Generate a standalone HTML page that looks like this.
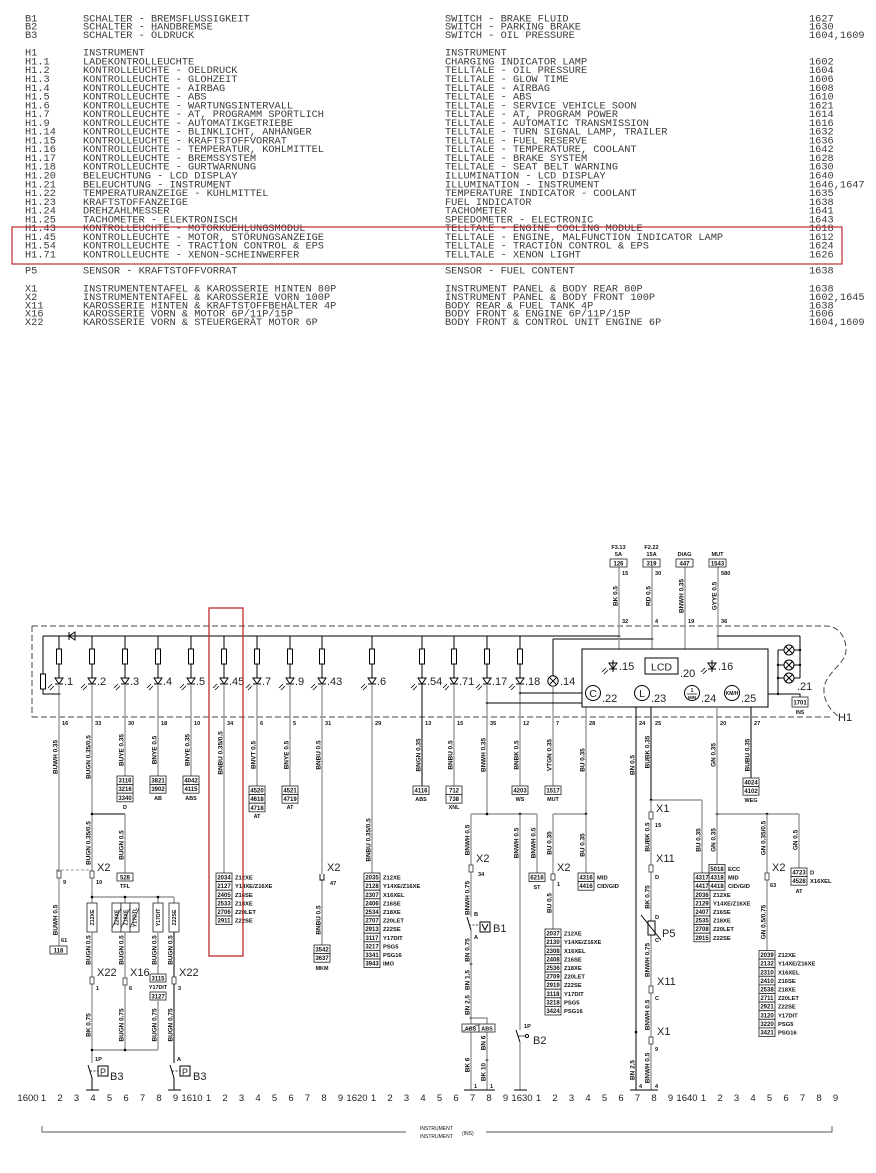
<!DOCTYPE html>
<html><head><meta charset="utf-8">
<style>
html,body{margin:0;padding:0;background:#fff;}
svg{display:block}
.m{font-family:"Liberation Mono",monospace;font-size:10.3px;fill:#3a3a3a;white-space:pre}
.r{font-family:"Liberation Sans",sans-serif;font-size:6.4px;font-weight:bold;text-anchor:middle;fill:#111}
.n{font-family:"Liberation Sans",sans-serif;font-size:5.6px;font-weight:bold;fill:#111}
.bt{font-family:"Liberation Sans",sans-serif;font-size:6px;font-weight:bold;text-anchor:middle;fill:#111}
.bl{font-family:"Liberation Sans",sans-serif;font-size:5.8px;font-weight:bold;fill:#111}
.lb{font-family:"Liberation Sans",sans-serif;font-size:11px;fill:#222}
.sc{font-family:"Liberation Sans",sans-serif;font-size:9.5px;text-anchor:middle;fill:#222}
.g{stroke:#999;stroke-width:1.4;fill:none}
.k{stroke:#000;stroke-width:1;fill:none}
.bx{fill:#fff;stroke:#222;stroke-width:0.8}
</style></head>
<body>
<svg width="876" height="1173" viewBox="0 0 876 1173" xmlns="http://www.w3.org/2000/svg">
<rect width="876" height="1173" fill="#fff"/>
<defs>
<g id="rl" stroke="#000" stroke-width="1" fill="none">
<line x1="0" y1="636" x2="0" y2="649"/>
<rect x="-2.5" y="649" width="5" height="15" fill="#fff"/>
<line x1="0" y1="664" x2="0" y2="678"/>
<path d="M-4 678H4L0 684Z M-4 684H4"/>
<path d="M-11 688L-7 684M-9 690L-5 686" stroke-width="0.8"/>
</g>
</defs>

<!-- ===== TOP LEGEND ===== -->
<g class="m">
<text x="25" y="21.3">B1</text><text x="83" y="21.3">SCHALTER - BREMSFLUSSIGKEIT</text><text x="445" y="21.3">SWITCH - BRAKE FLUID</text><text x="809" y="21.3">1627</text>
<text x="25" y="29.7">B2</text><text x="83" y="29.7">SCHALTER - HANDBREMSE</text><text x="445" y="29.7">SWITCH - PARKING BRAKE</text><text x="809" y="29.7">1630</text>
<text x="25" y="38.1">B3</text><text x="83" y="38.1">SCHALTER - ÖLDRUCK</text><text x="445" y="38.1">SWITCH - OIL PRESSURE</text><text x="809" y="38.1">1604,1609</text>

<text x="25" y="55.7">H1</text><text x="83" y="55.7">INSTRUMENT</text><text x="445" y="55.7">INSTRUMENT</text>
<text x="25" y="64.5">H1.1</text><text x="83" y="64.5">LADEKONTROLLEUCHTE</text><text x="445" y="64.5">CHARGING INDICATOR LAMP</text><text x="809" y="64.5">1602</text>
<text x="25" y="73.2">H1.2</text><text x="83" y="73.2">KONTROLLEUCHTE - OELDRUCK</text><text x="445" y="73.2">TELLTALE - OIL PRESSURE</text><text x="809" y="73.2">1604</text>
<text x="25" y="82">H1.3</text><text x="83" y="82">KONTROLLEUCHTE - GLOHZEIT</text><text x="445" y="82">TELLTALE - GLOW TIME</text><text x="809" y="82">1606</text>
<text x="25" y="90.8">H1.4</text><text x="83" y="90.8">KONTROLLEUCHTE - AIRBAG</text><text x="445" y="90.8">TELLTALE - AIRBAG</text><text x="809" y="90.8">1608</text>
<text x="25" y="99.6">H1.5</text><text x="83" y="99.6">KONTROLLEUCHTE - ABS</text><text x="445" y="99.6">TELLTALE - ABS</text><text x="809" y="99.6">1610</text>
<text x="25" y="108.3">H1.6</text><text x="83" y="108.3">KONTROLLEUCHTE - WARTUNGSINTERVALL</text><text x="445" y="108.3">TELLTALE - SERVICE VEHICLE SOON</text><text x="809" y="108.3">1621</text>
<text x="25" y="117.1">H1.7</text><text x="83" y="117.1">KONTROLLEUCHTE - AT, PROGRAMM SPORTLICH</text><text x="445" y="117.1">TELLTALE - AT, PROGRAM POWER</text><text x="809" y="117.1">1614</text>
<text x="25" y="125.9">H1.9</text><text x="83" y="125.9">KONTROLLEUCHTE - AUTOMATIKGETRIEBE</text><text x="445" y="125.9">TELLTALE - AUTOMATIC TRANSMISSION</text><text x="809" y="125.9">1616</text>
<text x="25" y="134.6">H1.14</text><text x="83" y="134.6">KONTROLLEUCHTE - BLINKLICHT, ANHÄNGER</text><text x="445" y="134.6">TELLTALE - TURN SIGNAL LAMP, TRAILER</text><text x="809" y="134.6">1632</text>
<text x="25" y="143.4">H1.15</text><text x="83" y="143.4">KONTROLLEUCHTE - KRAFTSTOFFVORRAT</text><text x="445" y="143.4">TELLTALE - FUEL RESERVE</text><text x="809" y="143.4">1636</text>
<text x="25" y="152.2">H1.16</text><text x="83" y="152.2">KONTROLLEUCHTE - TEMPERATUR, KOHLMITTEL</text><text x="445" y="152.2">TELLTALE - TEMPERATURE, COOLANT</text><text x="809" y="152.2">1642</text>
<text x="25" y="160.9">H1.17</text><text x="83" y="160.9">KONTROLLEUCHTE - BREMSSYSTEM</text><text x="445" y="160.9">TELLTALE - BRAKE SYSTEM</text><text x="809" y="160.9">1628</text>
<text x="25" y="169.7">H1.18</text><text x="83" y="169.7">KONTROLLEUCHTE - GURTWARNUNG</text><text x="445" y="169.7">TELLTALE - SEAT BELT WARNING</text><text x="809" y="169.7">1630</text>
<text x="25" y="178.5">H1.20</text><text x="83" y="178.5">BELEUCHTUNG - LCD DISPLAY</text><text x="445" y="178.5">ILLUMINATION - LCD DISPLAY</text><text x="809" y="178.5">1640</text>
<text x="25" y="187.3">H1.21</text><text x="83" y="187.3">BELEUCHTUNG - INSTRUMENT</text><text x="445" y="187.3">ILLUMINATION - INSTRUMENT</text><text x="809" y="187.3">1646,1647</text>
<text x="25" y="196">H1.22</text><text x="83" y="196">TEMPERATURANZEIGE - KÜHLMITTEL</text><text x="445" y="196">TEMPERATURE INDICATOR - COOLANT</text><text x="809" y="196">1635</text>
<text x="25" y="204.8">H1.23</text><text x="83" y="204.8">KRAFTSTOFFANZEIGE</text><text x="445" y="204.8">FUEL INDICATOR</text><text x="809" y="204.8">1638</text>
<text x="25" y="213.6">H1.24</text><text x="83" y="213.6">DREHZAHLMESSER</text><text x="445" y="213.6">TACHOMETER</text><text x="809" y="213.6">1641</text>
<text x="25" y="222.3">H1.25</text><text x="83" y="222.3">TACHOMETER - ELEKTRONISCH</text><text x="445" y="222.3">SPEEDOMETER - ELECTRONIC</text><text x="809" y="222.3">1643</text>
<text x="25" y="231.1">H1.43</text><text x="83" y="231.1">KONTROLLEUCHTE - MOTORKUEHLUNGSMODUL</text><text x="445" y="231.1">TELLTALE - ENGINE COOLING MODULE</text><text x="809" y="231.1">1618</text>
<text x="25" y="239.9">H1.45</text><text x="83" y="239.9">KONTROLLEUCHTE - MOTOR, STÖRUNGSANZEIGE</text><text x="445" y="239.9">TELLTALE - ENGINE, MALFUNCTION INDICATOR LAMP</text><text x="809" y="239.9">1612</text>
<text x="25" y="248.6">H1.54</text><text x="83" y="248.6">KONTROLLEUCHTE - TRACTION CONTROL &amp; EPS</text><text x="445" y="248.6">TELLTALE - TRACTION CONTROL &amp; EPS</text><text x="809" y="248.6">1624</text>
<text x="25" y="257.4">H1.71</text><text x="83" y="257.4">KONTROLLEUCHTE - XENON-SCHEINWERFER</text><text x="445" y="257.4">TELLTALE - XENON LIGHT</text><text x="809" y="257.4">1626</text>

<text x="25" y="273.5">P5</text><text x="83" y="273.5">SENSOR - KRAFTSTOFFVORRAT</text><text x="445" y="273.5">SENSOR - FUEL CONTENT</text><text x="809" y="273.5">1638</text>

<text x="25" y="291.5">X1</text><text x="83" y="291.5">INSTRUMENTENTAFEL &amp; KAROSSERIE HINTEN 80P</text><text x="445" y="291.5">INSTRUMENT PANEL &amp; BODY REAR 80P</text><text x="809" y="291.5">1638</text>
<text x="25" y="299.9">X2</text><text x="83" y="299.9">INSTRUMENTENTAFEL &amp; KAROSSERIE VORN 100P</text><text x="445" y="299.9">INSTRUMENT PANEL &amp; BODY FRONT 100P</text><text x="809" y="299.9">1602,1645</text>
<text x="25" y="308.3">X11</text><text x="83" y="308.3">KAROSSERIE HINTEN &amp; KRAFTSTOFFBEHÄLTER 4P</text><text x="445" y="308.3">BODY REAR &amp; FUEL TANK 4P</text><text x="809" y="308.3">1638</text>
<text x="25" y="316.7">X16</text><text x="83" y="316.7">KAROSSERIE VORN &amp; MOTOR  6P/11P/15P</text><text x="445" y="316.7">BODY FRONT &amp; ENGINE 6P/11P/15P</text><text x="809" y="316.7">1606</text>
<text x="25" y="325.1">X22</text><text x="83" y="325.1">KAROSSERIE VORN &amp; STEUERGERÄT MOTOR 6P</text><text x="445" y="325.1">BODY FRONT &amp; CONTROL UNIT ENGINE 6P</text><text x="809" y="325.1">1604,1609</text>
</g>
<rect x="12" y="227" width="830" height="37" fill="none" stroke="#c0282d" stroke-width="1.2"/>

<!-- ===== H1 DASHED BOX ===== -->
<g stroke="#444" stroke-width="1" fill="none" stroke-dasharray="6,3">
<path d="M32 626V717"/>
<path d="M32 626H826C838 626 846 636 846 650C846 664 826 672 824 688C823 700 830 710 838 716"/>
<path d="M32 717H832"/>
</g>
<text x="838" y="721" class="lb">H1</text>

<!-- bus -->
<path class="k" d="M43 636H619 M553 639H652 M718 636H800"/>
<path d="M69 632V640 M75 632V640L69 636Z" stroke="#000" stroke-width="1" fill="none"/>
<path class="k" d="M43 636V694H59"/>
<rect x="40.5" y="674" width="5" height="15" fill="#fff" stroke="#000"/>
<circle cx="59" cy="694" r="1.3"/>

<use href="#rl" x="59"/><use href="#rl" x="92"/><use href="#rl" x="125"/><use href="#rl" x="158"/>
<use href="#rl" x="191"/><use href="#rl" x="224"/><use href="#rl" x="257"/><use href="#rl" x="290"/>
<use href="#rl" x="322"/><use href="#rl" x="372"/><use href="#rl" x="422"/><use href="#rl" x="454"/>
<use href="#rl" x="487"/><use href="#rl" x="520"/>
<g class="lb">
<text x="64" y="685">.1</text><text x="97" y="685">.2</text><text x="130" y="685">.3</text><text x="163" y="685">.4</text>
<text x="196" y="685">.5</text><text x="229" y="685">.45</text><text x="262" y="685">.7</text><text x="295" y="685">.9</text>
<text x="327" y="685">.43</text><text x="377" y="685">.6</text><text x="427" y="685">.54</text><text x="459" y="685">.71</text>
<text x="492" y="685">.17</text><text x="525" y="685">.18</text><text x="560" y="685">.14</text>
</g>
<path class="k" d="M553 639V676"/>
<circle cx="553" cy="681" r="5.2" fill="#fff" stroke="#000"/>
<path class="k" d="M549.3 677.3L556.7 684.7M556.7 677.3L549.3 684.7"/>
<circle cx="619" cy="636" r="1.3"/><circle cx="652" cy="639" r="1.3"/><circle cx="718" cy="636" r="1.3"/>
<circle cx="520" cy="693" r="1.3"/><circle cx="487" cy="703" r="1.3"/>

<path class="g" d="M59 684V871 M59 878V946 M92 684V871 M125 684V776 M158 684V776 M191 684V776 M224 684V873 M257 684V786 M290 684V786 M322 684V874 M322 880V945 M372 684V873 M454 684V786 M487 684V814 M520 684V786 M553 686V786 M586 707V814"/>
<path class="k" d="M422 684V786"/>
<path class="k" d="M520 693H582 M487 703H582"/>

<path class="g" d="M619 567V649 M652 567V649 M685 567V649 M718 567V649"/>
<g>
<rect x="610" y="559" width="17" height="8" class="bx"/><text x="618.5" y="565.3" class="bt">126</text>
<rect x="643" y="559" width="17" height="8" class="bx"/><text x="651.5" y="565.3" class="bt">319</text>
<rect x="676" y="559" width="17" height="8" class="bx"/><text x="684.5" y="565.3" class="bt">447</text>
<rect x="709" y="559" width="17" height="8" class="bx"/><text x="717.5" y="565.3" class="bt">1543</text>
</g>
<g class="r" style="font-size:5.6px">
<text x="618.5" y="549">F3.13</text><text x="618.5" y="556">5A</text>
<text x="651.5" y="549">F2.22</text><text x="651.5" y="556">15A</text>
<text x="684.5" y="556">DIAG</text><text x="717.5" y="556">MUT</text>
</g>
<g class="n">
<text x="622" y="575">15</text><text x="655" y="575">30</text><text x="721" y="575">580</text>
<text x="622" y="623">32</text><text x="655" y="623">4</text><text x="688" y="623">19</text><text x="721" y="623">36</text>
</g>

<rect x="582" y="649" width="186" height="58" fill="#fff" stroke="#000" stroke-width="1"/>
<g stroke="#000" stroke-width="1" fill="none">
<path d="M609 663H617L613 669Z M609 669H617 M613 660V672"/>
<path d="M708 663H716L712 669Z M708 669H716 M712 660V672"/>
<path d="M602 672L606 668M604 674L608 670M701 672L705 668M703 674L707 670" stroke-width="0.8"/>
<rect x="645" y="658" width="33" height="16"/>
<circle cx="593" cy="693" r="7.5"/><circle cx="642" cy="693" r="7.5"/>
<circle cx="692" cy="693" r="7.5"/><circle cx="732" cy="693" r="7.5"/>
<path d="M687 694H697" stroke-width="0.7"/>
</g>
<g class="lb">
<text x="619" y="670">.15</text><text x="718" y="670">.16</text><text x="680" y="677">.20</text>
<text x="602" y="702">.22</text><text x="651" y="702">.23</text><text x="701" y="702">.24</text><text x="741" y="702">.25</text>
<text x="661.5" y="670.5" text-anchor="middle" font-size="10.5">LCD</text>
<text x="593" y="697" text-anchor="middle" font-size="10.5">C</text>
<text x="642" y="697" text-anchor="middle" font-size="10.5">L</text>
</g>
<text x="692" y="692" class="bt" style="font-size:5px">1</text>
<text x="692" y="699" class="bt" style="font-size:4.5px">MIN</text>
<text x="732" y="695" class="bt" style="font-size:5px">KM/H</text>

<path class="k" d="M778 650V694 M800 636V678 M778 650H800 M778 665H800 M778 678H800 M768 694H800V697"/>
<g fill="#fff" stroke="#000">
<circle cx="789" cy="650" r="5"/><circle cx="789" cy="665" r="5"/><circle cx="789" cy="678" r="5"/>
</g>
<path class="k" d="M785.5 646.5L792.5 653.5M792.5 646.5L785.5 653.5 M785.5 661.5L792.5 668.5M792.5 661.5L785.5 668.5 M785.5 674.5L792.5 681.5M792.5 674.5L785.5 681.5"/>
<g fill="#000"><circle cx="778" cy="665" r="1.2"/><circle cx="778" cy="678" r="1.2"/><circle cx="778" cy="694" r="1.2"/><circle cx="800" cy="650" r="1.2"/><circle cx="800" cy="665" r="1.2"/></g>
<text x="797" y="690" class="lb">.21</text>
<rect x="792" y="697" width="16" height="10" class="bx"/><text x="800" y="704.3" class="bt">1701</text>
<text x="800" y="714" class="bt" style="font-size:5px">INS</text>

<g class="n">
<text x="62" y="725">16</text><text x="95" y="725">33</text><text x="128" y="725">30</text><text x="161" y="725">18</text>
<text x="194" y="725">10</text><text x="227" y="725">34</text><text x="260" y="725">6</text><text x="293" y="725">5</text>
<text x="325" y="725">31</text><text x="375" y="725">29</text><text x="425" y="725">13</text><text x="457" y="725">15</text>
<text x="490" y="725">35</text><text x="523" y="725">12</text><text x="556" y="725">7</text><text x="589" y="725">28</text>
<text x="639" y="725">24</text><text x="655" y="725">25</text><text x="720" y="725">20</text><text x="754" y="725">27</text>
</g>

<g class="r">
<text transform="translate(57.5,757) rotate(-90)">BUWH 0.35</text>
<text transform="translate(90.5,757) rotate(-90)">BUGN 0.35/0.5</text>
<text transform="translate(123.5,750) rotate(-90)">BUYE 0.35</text>
<text transform="translate(156.5,750) rotate(-90)">BNYE 0.5</text>
<text transform="translate(189.5,750) rotate(-90)">BNYE 0.35</text>
<text transform="translate(222.5,753) rotate(-90)">BNBU 0.35/0.5</text>
<text transform="translate(255.5,755) rotate(-90)">BNVT 0.5</text>
<text transform="translate(288.5,755) rotate(-90)">BNYE 0.5</text>
<text transform="translate(320.5,755) rotate(-90)">BNBU 0.5</text>
<text transform="translate(420.5,755) rotate(-90)">BNGN 0.35</text>
<text transform="translate(452.5,755) rotate(-90)">BNBU 0.5</text>
<text transform="translate(485.5,755) rotate(-90)">BNWH 0.35</text>
<text transform="translate(518.5,755) rotate(-90)">BNBK 0.5</text>
<text transform="translate(551.5,755) rotate(-90)">VTGN 0.35</text>
<text transform="translate(584.5,760) rotate(-90)">BU 0.35</text>
<text transform="translate(634.5,765) rotate(-90)">BN 0.5</text>
<text transform="translate(649.5,752) rotate(-90)">BUBK 0.35</text>
<text transform="translate(715.5,755) rotate(-90)">GN 0.35</text>
<text transform="translate(749.5,755) rotate(-90)">BUBU 0.35</text>
<text transform="translate(617.5,596) rotate(-90)">BK 0.5</text>
<text transform="translate(650.5,596) rotate(-90)">RD 0.5</text>
<text transform="translate(683.5,596) rotate(-90)">BNWH 0.35</text>
<text transform="translate(716.5,596) rotate(-90)">GYYE 0.5</text>
<text transform="translate(90.5,843) rotate(-90)">BUGN 0.35/0.5</text>
<text transform="translate(123.5,845) rotate(-90)">BUGN 0.5</text>
<text transform="translate(57.5,920) rotate(-90)">BUWH 0.5</text>
<text transform="translate(320.5,920) rotate(-90)">BNBU 0.5</text>
<text transform="translate(370.5,840) rotate(-90)">BNBU 0.35/0.5</text>
<text transform="translate(90.5,950) rotate(-90)">BUGN 0.5</text>
<text transform="translate(123.5,950) rotate(-90)">BUGN 0.5</text>
<text transform="translate(156.5,950) rotate(-90)">BUGN 0.5</text>
<text transform="translate(172.5,950) rotate(-90)">BUGN 0.5</text>
<text transform="translate(90.5,1025) rotate(-90)">BK 0.75</text>
<text transform="translate(123.5,1025) rotate(-90)">BUGN 0.75</text>
<text transform="translate(156.5,1025) rotate(-90)">BUGN 0.75</text>
<text transform="translate(172.5,1025) rotate(-90)">BUGN 0.75</text>
<text transform="translate(469.5,840) rotate(-90)">BNWH 0.5</text>
<text transform="translate(469.5,898) rotate(-90)">BNWH 0.75</text>
<text transform="translate(469.5,950) rotate(-90)">BN 0.75</text>
<text transform="translate(469.5,980) rotate(-90)">BN 1.5</text>
<text transform="translate(469.5,1005) rotate(-90)">BN 2.5</text>
<text transform="translate(469.5,1065) rotate(-90)">BK 6</text>
<text transform="translate(485.5,1043) rotate(-90)">BN 6</text>
<text transform="translate(485.5,1072) rotate(-90)">BK 10</text>
<text transform="translate(518.5,843) rotate(-90)">BNWH 0.5</text>
<text transform="translate(535.5,843) rotate(-90)">BNWH 0.5</text>
<text transform="translate(551.5,843) rotate(-90)">BU 0.35</text>
<text transform="translate(551.5,903) rotate(-90)">BU 0.5</text>
<text transform="translate(584.5,845) rotate(-90)">BU 0.35</text>
<text transform="translate(649.5,837) rotate(-90)">BUBK 0.5</text>
<text transform="translate(649.5,897) rotate(-90)">BK 0.75</text>
<text transform="translate(649.5,960) rotate(-90)">BNWH 0.75</text>
<text transform="translate(649.5,1015) rotate(-90)">BNWH 0.5</text>
<text transform="translate(649.5,1068) rotate(-90)">BNWH 0.5</text>
<text transform="translate(634.5,1070) rotate(-90)">BN 2.5</text>
<text transform="translate(700.5,840) rotate(-90)">BU 0.35</text>
<text transform="translate(715.5,840) rotate(-90)">GN 0.35</text>
<text transform="translate(765.5,838) rotate(-90)">GN 0.35/0.5</text>
<text transform="translate(765.5,922) rotate(-90)">GN 0.5/0.75</text>
<text transform="translate(797.5,840) rotate(-90)">GN 0.5</text>
</g>

<g>
<rect x="117" y="776" width="16" height="8.6" class="bx"/><text x="125" y="782.6" class="bt">3116</text>
<rect x="117" y="784.6" width="16" height="8.6" class="bx"/><text x="125" y="791.2" class="bt">3216</text>
<rect x="117" y="793.2" width="16" height="8.6" class="bx"/><text x="125" y="799.8" class="bt">3340</text>
<rect x="150" y="776" width="16" height="8.6" class="bx"/><text x="158" y="782.6" class="bt">3821</text>
<rect x="150" y="784.6" width="16" height="8.6" class="bx"/><text x="158" y="791.2" class="bt">3902</text>
<rect x="183" y="776" width="16" height="8.6" class="bx"/><text x="191" y="782.6" class="bt">4042</text>
<rect x="183" y="784.6" width="16" height="8.6" class="bx"/><text x="191" y="791.2" class="bt">4115</text>
<rect x="249" y="786" width="16" height="8.6" class="bx"/><text x="257" y="792.6" class="bt">4520</text>
<rect x="249" y="794.6" width="16" height="8.6" class="bx"/><text x="257" y="801.2" class="bt">4618</text>
<rect x="249" y="803.2" width="16" height="8.6" class="bx"/><text x="257" y="809.8" class="bt">4718</text>
<rect x="282" y="786" width="16" height="8.6" class="bx"/><text x="290" y="792.6" class="bt">4521</text>
<rect x="282" y="794.6" width="16" height="8.6" class="bx"/><text x="290" y="801.2" class="bt">4719</text>
<rect x="413" y="786" width="16" height="8.6" class="bx"/><text x="421" y="792.6" class="bt">4116</text>
<rect x="446" y="786" width="16" height="8.6" class="bx"/><text x="454" y="792.6" class="bt">712</text>
<rect x="446" y="794.6" width="16" height="8.6" class="bx"/><text x="454" y="801.2" class="bt">738</text>
<rect x="512" y="786" width="16" height="8.6" class="bx"/><text x="520" y="792.6" class="bt">4203</text>
<rect x="545" y="786" width="16" height="8.6" class="bx"/><text x="553" y="792.6" class="bt">1517</text>
<rect x="743" y="778" width="16" height="8.6" class="bx"/><text x="751" y="784.6" class="bt">4024</text>
<rect x="743" y="786.6" width="16" height="8.6" class="bx"/><text x="751" y="793.2" class="bt">4102</text>
</g>
<g class="bt" style="font-size:5.4px">
<text x="125" y="809">D</text><text x="158" y="800">AB</text><text x="191" y="800">ABS</text>
<text x="257" y="818">AT</text><text x="290" y="809">AT</text><text x="421" y="801">ABS</text>
<text x="454" y="809">XNL</text><text x="520" y="801">WS</text><text x="553" y="801">MUT</text><text x="751" y="802">WEG</text>
</g>

<path class="k" d="M92 814H125"/>
<circle cx="92" cy="814" r="1.3"/>
<path class="g" d="M125 814V873 M92 878V897H174 M92 897V903 M125 897V903 M158 897V903 M174 897V903"/>
<g fill="#000"><circle cx="92" cy="897" r="1.3"/><circle cx="125" cy="897" r="1.3"/><circle cx="158" cy="897" r="1.3"/></g>
<path d="M56 870H92" stroke="#777" stroke-width="0.8" stroke-dasharray="3,2" fill="none"/>
<rect x="57" y="871" width="4" height="7" fill="#fff" stroke="#333" stroke-width="0.8"/>
<rect x="90" y="871" width="4" height="7" fill="#fff" stroke="#333" stroke-width="0.8"/>
<text x="97" y="871" class="lb">X2</text>
<g class="n"><text x="63" y="884">9</text><text x="96" y="884">10</text><text x="61" y="942">61</text></g>
<rect x="117" y="873" width="16" height="8" class="bx"/><text x="125" y="879.3" class="bt">528</text>
<text x="125" y="888" class="bt" style="font-size:5.4px">TFL</text>
<rect x="50" y="946" width="17" height="8" class="bx"/><text x="58.5" y="952.3" class="bt">118</text>

<g fill="#fff" stroke="#222" stroke-width="0.8">
<rect x="87" y="903" width="10" height="29"/>
<rect x="112" y="903" width="9" height="29"/><rect x="121" y="903" width="9" height="29"/><rect x="130" y="903" width="9" height="29"/>
<rect x="153" y="903" width="10" height="29"/><rect x="169" y="903" width="10" height="29"/>
</g>
<path d="M112 928L121 908M121 928L130 908M130 928L139 908" stroke="#222" stroke-width="0.7"/>
<g class="r" style="font-size:5.2px">
<text transform="translate(94,917.5) rotate(-90)">Z12XE</text>
<text transform="translate(118.5,917.5) rotate(-90)">Z20XE</text>
<text transform="translate(127.5,917.5) rotate(-90)">Z18XE</text>
<text transform="translate(136.5,917.5) rotate(-90)">Y17DTL</text>
<text transform="translate(160,917.5) rotate(-90)">Y17DIT</text>
<text transform="translate(176,917.5) rotate(-90)">Z22SE</text>
</g>
<path class="g" d="M92 932V977 M92 984V1063 M125 932V978 M125 985V1050 M158 932V974 M158 1001V1050 M92 1050H158"/>
<path class="k" d="M174 932V977 M174 984V1063"/>
<g fill="#000"><circle cx="92" cy="1050" r="1.3"/><circle cx="125" cy="1050" r="1.3"/></g>
<g fill="#fff" stroke="#333" stroke-width="0.8">
<rect x="90" y="977" width="4" height="7"/><rect x="123" y="978" width="4" height="7"/><rect x="172" y="977" width="4" height="7"/>
</g>
<g class="lb"><text x="97" y="976">X22</text><text x="130" y="976">X16</text><text x="179" y="976">X22</text></g>
<g class="n"><text x="96" y="990">1</text><text x="129" y="990">6</text><text x="178" y="990">3</text></g>
<rect x="150" y="974" width="16" height="8" class="bx"/><text x="158" y="980.3" class="bt">3115</text>
<text x="158" y="989" class="bt" style="font-size:5.4px">Y17DIT</text>
<rect x="150" y="992" width="16" height="8" class="bx"/><text x="158" y="998.3" class="bt">3127</text>

<g stroke="#000" stroke-width="1" fill="none">
<path d="M92 1078L88 1065 M92 1078V1090 M86 1090H99"/>
<path d="M90 1071H98" stroke-dasharray="2,1.5" stroke-width="0.7"/>
<rect x="98" y="1066" width="10" height="10"/>
<path d="M174 1078L170 1065 M174 1078V1090 M168 1090H181"/>
<path d="M172 1071H180" stroke-dasharray="2,1.5" stroke-width="0.7"/>
<rect x="180" y="1066" width="10" height="10"/>
</g>
<g class="lb"><text x="100" y="1075" font-size="9">P</text><text x="110" y="1080">B3</text>
<text x="182" y="1075" font-size="9">P</text><text x="193" y="1080">B3</text></g>
<g class="n"><text x="95" y="1061">1P</text><text x="177" y="1061">A</text></g>

<g>
<rect x="216" y="873" width="16" height="8.6" class="bx"/><text x="224" y="879.6" class="bt">2034</text>
<rect x="216" y="881.6" width="16" height="8.6" class="bx"/><text x="224" y="888.2" class="bt">2127</text>
<rect x="216" y="890.2" width="16" height="8.6" class="bx"/><text x="224" y="896.8" class="bt">2405</text>
<rect x="216" y="898.8" width="16" height="8.6" class="bx"/><text x="224" y="905.4" class="bt">2533</text>
<rect x="216" y="907.4" width="16" height="8.6" class="bx"/><text x="224" y="914" class="bt">2706</text>
<rect x="216" y="916" width="16" height="8.6" class="bx"/><text x="224" y="922.6" class="bt">2911</text>
</g>
<g class="bl">
<text x="235" y="879.6">Z12XE</text><text x="235" y="888.2">Y14XE/Z16XE</text><text x="235" y="896.8">Z16SE</text>
<text x="235" y="905.4">Z18XE</text><text x="235" y="914">Z20LET</text><text x="235" y="922.6">Z22SE</text>
</g>
<rect x="209" y="608" width="34" height="348" fill="none" stroke="#c0282d" stroke-width="1.3"/>

<path d="M320 874V880H324V874" fill="none" stroke="#000" stroke-width="0.9"/>
<text x="327" y="871" class="lb">X2</text>
<text x="330" y="885" class="n">47</text>
<rect x="314" y="945" width="16" height="8.6" class="bx"/><text x="322" y="951.6" class="bt">3542</text>
<rect x="314" y="953.6" width="16" height="8.6" class="bx"/><text x="322" y="960.2" class="bt">3637</text>
<text x="322" y="970" class="bt" style="font-size:5.4px">MKM</text>

<g>
<rect x="364" y="873" width="16" height="8.6" class="bx"/><text x="372" y="879.6" class="bt">2035</text>
<rect x="364" y="881.6" width="16" height="8.6" class="bx"/><text x="372" y="888.2" class="bt">2128</text>
<rect x="364" y="890.2" width="16" height="8.6" class="bx"/><text x="372" y="896.8" class="bt">2307</text>
<rect x="364" y="898.8" width="16" height="8.6" class="bx"/><text x="372" y="905.4" class="bt">2406</text>
<rect x="364" y="907.4" width="16" height="8.6" class="bx"/><text x="372" y="914" class="bt">2534</text>
<rect x="364" y="916" width="16" height="8.6" class="bx"/><text x="372" y="922.6" class="bt">2707</text>
<rect x="364" y="924.6" width="16" height="8.6" class="bx"/><text x="372" y="931.2" class="bt">2913</text>
<rect x="364" y="933.2" width="16" height="8.6" class="bx"/><text x="372" y="939.8" class="bt">3117</text>
<rect x="364" y="941.8" width="16" height="8.6" class="bx"/><text x="372" y="948.4" class="bt">3217</text>
<rect x="364" y="950.4" width="16" height="8.6" class="bx"/><text x="372" y="957" class="bt">3341</text>
<rect x="364" y="959" width="16" height="8.6" class="bx"/><text x="372" y="965.6" class="bt">3943</text>
</g>
<g class="bl">
<text x="383" y="879.6">Z12XE</text><text x="383" y="888.2">Y14XE/Z16XE</text><text x="383" y="896.8">X16XEL</text>
<text x="383" y="905.4">Z16SE</text><text x="383" y="914">Z18XE</text><text x="383" y="922.6">Z20LET</text>
<text x="383" y="931.2">Z22SE</text><text x="383" y="939.8">Y17DIT</text><text x="383" y="948.4">PSG5</text>
<text x="383" y="957">PSG16</text><text x="383" y="965.6">IMO</text>
</g>

<path class="g" d="M471 814H537 M553 814H586 M717 814H799 M651 800H702"/>
<g fill="#000">
<circle cx="487" cy="814" r="1.3"/><circle cx="520" cy="814" r="1.3"/><circle cx="586" cy="814" r="1.3"/>
<circle cx="651" cy="800" r="1.3"/><circle cx="717" cy="814" r="1.3"/><circle cx="767" cy="814" r="1.3"/>
<circle cx="471" cy="964" r="1.3"/><circle cx="471" cy="1018" r="1.3"/><circle cx="487" cy="1060" r="1.3"/>
<circle cx="636" cy="1032" r="1.3"/>
</g>
<path class="g" d="M471 814V865 M471 872V917 M471 930V1024 M471 1018H487V1024 M471 1032V1090 M487 1032V1090 M520 814V1030 M520 1042V1090 M537 814V873 M553 814V874 M553 880V929 M586 814V873 M651 800V812 M651 819V865 M651 872V921 M651 935V986 M651 993V1037 M651 1044V1090 M702 800V873 M717 707V864 M767 814V873 M767 880V950 M799 814V868"/>
<path class="k" d="M636 707V1090 M651 707V800 M751 707V778"/>

<g fill="#fff" stroke="#333" stroke-width="0.8">
<rect x="469" y="865" width="4" height="7"/><rect x="551" y="874" width="4" height="6"/>
<rect x="649" y="812" width="4" height="7"/><rect x="649" y="865" width="4" height="7"/>
<rect x="649" y="986" width="4" height="7"/><rect x="649" y="1037" width="4" height="7"/>
<rect x="765" y="873" width="4" height="7"/>
</g>
<g class="lb">
<text x="476" y="862">X2</text><text x="557" y="871">X2</text><text x="772" y="871">X2</text>
<text x="656" y="812">X1</text><text x="656" y="862">X11</text><text x="657" y="985">X11</text><text x="657" y="1035">X1</text>
<text x="662" y="937">P5</text><text x="493" y="932">B1</text><text x="533" y="1044">B2</text>
</g>
<g class="n">
<text x="478" y="876">34</text><text x="557" y="886">1</text><text x="770" y="887">63</text>
<text x="655" y="827">15</text><text x="655" y="879">D</text><text x="655" y="919">D</text><text x="655" y="942">C</text>
<text x="655" y="1000">C</text><text x="655" y="1051">9</text>
<text x="474" y="916">B</text><text x="474" y="939">A</text><text x="524" y="1028">1P</text>
<text x="474" y="1088">1</text><text x="490" y="1088">1</text><text x="639" y="1088">4</text><text x="655" y="1088">4</text>
</g>
<rect x="648" y="921" width="7" height="14" fill="#fff" stroke="#000"/>
<path class="k" d="M641 915L661 940"/>
<g stroke="#000" stroke-width="1" fill="none">
<path d="M471 930L467 917"/>
<path d="M469 925H480" stroke-dasharray="2,1.5" stroke-width="0.7"/>
<rect x="480" y="922" width="10" height="10"/>
<path d="M482 924L485 930L488 924"/>
<path d="M520 1042L516 1030"/>
<path d="M518 1036H525" stroke-width="0.7"/>
<circle cx="527" cy="1036" r="1.6"/>
<path d="M464 1090H495 M514 1090H527 M630 1090H658"/>
</g>
<rect x="462" y="1024" width="17" height="8" class="bx"/><rect x="479" y="1024" width="16" height="8" class="bx"/>
<text x="470.5" y="1030.3" class="bt" style="font-size:5.4px">ABS</text><text x="487" y="1030.3" class="bt" style="font-size:5.4px">ABS</text>
<path d="M463 1031L478 1025" stroke="#222" stroke-width="0.6"/>

<rect x="529" y="873" width="16" height="8.6" class="bx"/><text x="537" y="879.6" class="bt">6216</text>
<text x="537" y="889" class="bt" style="font-size:5.4px">ST</text>
<rect x="578" y="873" width="16" height="8.6" class="bx"/><text x="586" y="879.6" class="bt">4316</text>
<rect x="578" y="881.6" width="16" height="8.6" class="bx"/><text x="586" y="888.2" class="bt">4416</text>
<text x="597" y="879.6" class="bl">MID</text><text x="597" y="888.2" class="bl">CID/GID</text>

<g>
<rect x="545" y="929" width="16" height="8.6" class="bx"/><text x="553" y="935.6" class="bt">2037</text>
<rect x="545" y="937.6" width="16" height="8.6" class="bx"/><text x="553" y="944.2" class="bt">2130</text>
<rect x="545" y="946.2" width="16" height="8.6" class="bx"/><text x="553" y="952.8" class="bt">2308</text>
<rect x="545" y="954.8" width="16" height="8.6" class="bx"/><text x="553" y="961.4" class="bt">2408</text>
<rect x="545" y="963.4" width="16" height="8.6" class="bx"/><text x="553" y="970" class="bt">2536</text>
<rect x="545" y="972" width="16" height="8.6" class="bx"/><text x="553" y="978.6" class="bt">2709</text>
<rect x="545" y="980.6" width="16" height="8.6" class="bx"/><text x="553" y="987.2" class="bt">2919</text>
<rect x="545" y="989.2" width="16" height="8.6" class="bx"/><text x="553" y="995.8" class="bt">3118</text>
<rect x="545" y="997.8" width="16" height="8.6" class="bx"/><text x="553" y="1004.4" class="bt">3218</text>
<rect x="545" y="1006.4" width="16" height="8.6" class="bx"/><text x="553" y="1013" class="bt">3424</text>
</g>
<g class="bl">
<text x="564" y="935.6">Z12XE</text><text x="564" y="944.2">Y14XE/Z16XE</text><text x="564" y="952.8">X16XEL</text>
<text x="564" y="961.4">Z16SE</text><text x="564" y="970">Z18XE</text><text x="564" y="978.6">Z20LET</text>
<text x="564" y="987.2">Z22SE</text><text x="564" y="995.8">Y17DIT</text><text x="564" y="1004.4">PSG5</text><text x="564" y="1013">PSG16</text>
</g>

<g>
<rect x="709" y="864.4" width="16" height="8.6" class="bx"/><text x="717" y="871" class="bt">5018</text>
<rect x="694" y="873" width="16" height="8.6" class="bx"/><text x="702" y="879.6" class="bt">4317</text>
<rect x="709" y="873" width="16" height="8.6" class="bx"/><text x="717" y="879.6" class="bt">4318</text>
<rect x="694" y="881.6" width="16" height="8.6" class="bx"/><text x="702" y="888.2" class="bt">4417</text>
<rect x="709" y="881.6" width="16" height="8.6" class="bx"/><text x="717" y="888.2" class="bt">4418</text>
<rect x="694" y="890.2" width="16" height="8.6" class="bx"/><text x="702" y="896.8" class="bt">2036</text>
<rect x="694" y="898.8" width="16" height="8.6" class="bx"/><text x="702" y="905.4" class="bt">2129</text>
<rect x="694" y="907.4" width="16" height="8.6" class="bx"/><text x="702" y="914" class="bt">2407</text>
<rect x="694" y="916" width="16" height="8.6" class="bx"/><text x="702" y="922.6" class="bt">2535</text>
<rect x="694" y="924.6" width="16" height="8.6" class="bx"/><text x="702" y="931.2" class="bt">2708</text>
<rect x="694" y="933.2" width="16" height="8.6" class="bx"/><text x="702" y="939.8" class="bt">2915</text>
</g>
<g class="bl">
<text x="728" y="871">ECC</text><text x="728" y="879.6">MID</text><text x="728" y="888.2">CID/GID</text>
<text x="713" y="896.8">Z12XE</text><text x="713" y="905.4">Y14XE/Z16XE</text><text x="713" y="914">Z16SE</text>
<text x="713" y="922.6">Z18XE</text><text x="713" y="931.2">Z20LET</text><text x="713" y="939.8">Z22SE</text>
</g>

<rect x="791" y="868" width="16" height="8.6" class="bx"/><text x="799" y="874.6" class="bt">4723</text>
<rect x="791" y="876.6" width="16" height="8.6" class="bx"/><text x="799" y="883.2" class="bt">4528</text>
<text x="810" y="874.6" class="bl">D</text><text x="810" y="883.2" class="bl">X16XEL</text>
<text x="799" y="893" class="bt" style="font-size:5.4px">AT</text>

<g>
<rect x="759" y="950.5" width="16" height="8.6" class="bx"/><text x="767" y="957.1" class="bt">2039</text>
<rect x="759" y="959.1" width="16" height="8.6" class="bx"/><text x="767" y="965.7" class="bt">2132</text>
<rect x="759" y="967.7" width="16" height="8.6" class="bx"/><text x="767" y="974.3" class="bt">2310</text>
<rect x="759" y="976.3" width="16" height="8.6" class="bx"/><text x="767" y="982.9" class="bt">2410</text>
<rect x="759" y="984.9" width="16" height="8.6" class="bx"/><text x="767" y="991.5" class="bt">2538</text>
<rect x="759" y="993.5" width="16" height="8.6" class="bx"/><text x="767" y="1000.1" class="bt">2711</text>
<rect x="759" y="1002.1" width="16" height="8.6" class="bx"/><text x="767" y="1008.7" class="bt">2921</text>
<rect x="759" y="1010.7" width="16" height="8.6" class="bx"/><text x="767" y="1017.3" class="bt">3120</text>
<rect x="759" y="1019.3" width="16" height="8.6" class="bx"/><text x="767" y="1025.9" class="bt">3220</text>
<rect x="759" y="1027.9" width="16" height="8.6" class="bx"/><text x="767" y="1034.5" class="bt">3421</text>
</g>
<g class="bl">
<text x="778" y="957.1">Z12XE</text><text x="778" y="965.7">Y14XE/Z16XE</text><text x="778" y="974.3">X16XEL</text>
<text x="778" y="982.9">Z16SE</text><text x="778" y="991.5">Z18XE</text><text x="778" y="1000.1">Z20LET</text>
<text x="778" y="1008.7">Z22SE</text><text x="778" y="1017.3">Y17DIT</text><text x="778" y="1025.9">PSG5</text><text x="778" y="1034.5">PSG16</text>
</g>

<g class="sc">
<text x="28" y="1101">1600</text><text x="43.5" y="1101">1</text><text x="60" y="1101">2</text><text x="76.5" y="1101">3</text><text x="93" y="1101">4</text><text x="109.5" y="1101">5</text><text x="126" y="1101">6</text><text x="142.5" y="1101">7</text><text x="159" y="1101">8</text><text x="175.5" y="1101">9</text>
<text x="192" y="1101">1610</text><text x="208.5" y="1101">1</text><text x="225" y="1101">2</text><text x="241.5" y="1101">3</text><text x="258" y="1101">4</text><text x="274.5" y="1101">5</text><text x="291" y="1101">6</text><text x="307.5" y="1101">7</text><text x="324" y="1101">8</text><text x="340.5" y="1101">9</text>
<text x="357" y="1101">1620</text><text x="373.5" y="1101">1</text><text x="390" y="1101">2</text><text x="406.5" y="1101">3</text><text x="423" y="1101">4</text><text x="439.5" y="1101">5</text><text x="456" y="1101">6</text><text x="472.5" y="1101">7</text><text x="489" y="1101">8</text><text x="505.5" y="1101">9</text>
<text x="522" y="1101">1630</text><text x="538.5" y="1101">1</text><text x="555" y="1101">2</text><text x="571.5" y="1101">3</text><text x="588" y="1101">4</text><text x="604.5" y="1101">5</text><text x="621" y="1101">6</text><text x="637.5" y="1101">7</text><text x="654" y="1101">8</text><text x="670.5" y="1101">9</text>
<text x="687" y="1101">1640</text><text x="703.5" y="1101">1</text><text x="720" y="1101">2</text><text x="736.5" y="1101">3</text><text x="753" y="1101">4</text><text x="769.5" y="1101">5</text><text x="786" y="1101">6</text><text x="802.5" y="1101">7</text><text x="819" y="1101">8</text><text x="835.5" y="1101">9</text>
</g>

<path d="M42 1126V1132H406 M486 1132H832V1126" stroke="#555" stroke-width="0.9" fill="none"/>
<g class="n" style="font-size:5px;font-weight:normal">
<text x="420" y="1130">INSTRUMENT</text><text x="420" y="1138">INSTRUMENT</text><text x="462" y="1135">(INS)</text>
</g>
</svg>
</body></html>
